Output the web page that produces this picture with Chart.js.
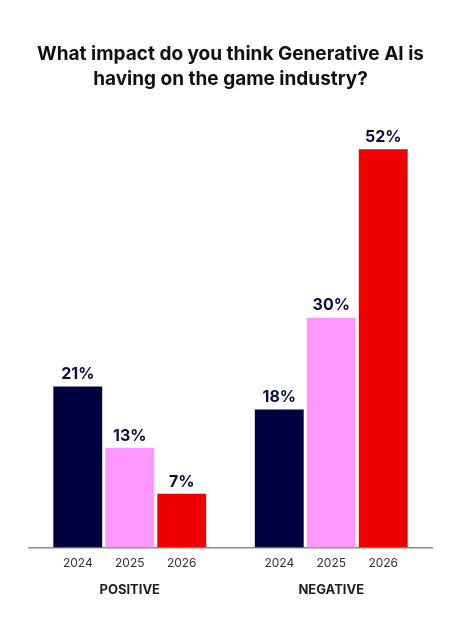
<!DOCTYPE html>
<html>
<head>
<meta charset="utf-8">
<script src="https://cdn.jsdelivr.net/npm/chart.js@4"></script>
<style>
  html, body { margin: 0; padding: 0; background: #fff; }
  #wrap { width: 471px; height: 636px; }
</style>
</head>
<body>
<div id="wrap"><canvas id="chart" width="471" height="636"></canvas></div>
<script>
// Data
const groups = ['POSITIVE', 'NEGATIVE'];
const years = ['2024', '2025', '2026'];
const values2024 = [21, 18];
const values2025 = [13, 30];
const values2026 = [7, 52];
const yearColors = ['#00003f', '#fe97fe', '#ee0000'];
const titleLines = ['What impact do you think Generative AI is', 'having on the game industry?'];

const FONT = 'Inter, "Noto Sans", sans-serif';

// value labels above bars + year labels under each bar
const barLabels = {
    id: 'barLabels',
    afterDatasetsDraw(chart) {
        const ctx = chart.ctx;
        ctx.save();
        ctx.textAlign = 'center';
        chart.data.datasets.forEach((ds, i) => {
            const meta = chart.getDatasetMeta(i);
            meta.data.forEach((bar, j) => {
                ctx.font = 'bold 16px ' + FONT;
                ctx.fillStyle = '#0d0d40';
                ctx.textBaseline = 'bottom';
                ctx.fillText(ds.data[j] + '%', bar.x, bar.y - 4);
                ctx.font = '12px ' + FONT;
                ctx.fillStyle = '#333';
                ctx.textBaseline = 'middle';
                ctx.fillText(ds.label, bar.x, chart.scales.y.bottom + 16);
            });
        });
        ctx.restore();
    }
};

const ctx = document.getElementById('chart').getContext('2d');
new Chart(ctx, {
    type: 'bar',
    data: {
        labels: groups,
        datasets: [
            { label: years[0], data: values2024, backgroundColor: yearColors[0] },
            { label: years[1], data: values2025, backgroundColor: yearColors[1] },
            { label: years[2], data: values2026, backgroundColor: yearColors[2] }
        ]
    },
    options: {
        responsive: false,
        animation: false,
        devicePixelRatio: 1,
        categoryPercentage: 0.774,
        barPercentage: 0.94,
        layout: { padding: { left: 29, right: 39, top: 0, bottom: 3 } },
        plugins: {
            legend: { display: false },
            tooltip: { enabled: false },
            title: {
                display: true,
                text: titleLines,
                color: '#111',
                font: { family: FONT, size: 19, weight: 'bold', lineHeight: 1.32 },
                padding: { top: 42, bottom: 34 }
            }
        },
        scales: {
            x: {
                grid: { display: false, drawTicks: false },
                border: { display: true, color: '#8a8a8a', width: 1.5 },
                ticks: {
                    color: '#222',
                    font: { family: FONT, size: 13, weight: 'bold' },
                    padding: 35
                }
            },
            y: {
                display: false,
                min: 0,
                max: 55
            }
        }
    },
    plugins: [barLabels]
});
</script>
</body>
</html>
